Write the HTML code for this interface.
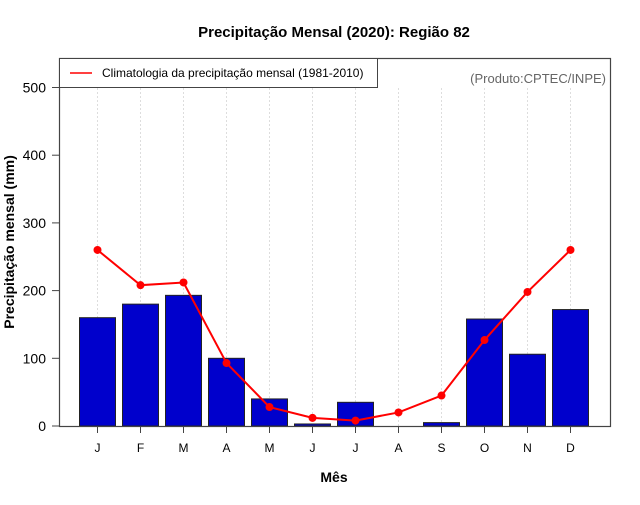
<!DOCTYPE html>
<html><head><meta charset="utf-8"><style>
body{margin:0;background:#fff}
svg text{font-family:"Liberation Sans",sans-serif}
</style></head><body>
<svg id="c" width="640" height="500" xmlns="http://www.w3.org/2000/svg">
<text x="334" y="37" text-anchor="middle" font-size="15" font-weight="bold">Precipitação Mensal (2020): Região 82</text>
<text x="334" y="482" text-anchor="middle" font-size="14" font-weight="bold">Mês</text>
<text transform="translate(14,242) rotate(-90)" text-anchor="middle" font-size="14" font-weight="bold">Precipitação mensal (mm)</text>
<g id="grid"></g><g id="bars"></g><g id="line"></g><g id="axes"></g>
<rect x="59.5" y="58.5" width="551" height="368" fill="none" stroke="#444" stroke-width="1.2"/>
<g>
<rect x="59.5" y="58.5" width="318" height="29" fill="#fff" stroke="#444"/>
<line x1="70" y1="73" x2="92" y2="73" stroke="red" stroke-width="1.5"/>
<text x="102" y="77" font-size="12">Climatologia da precipitação mensal (1981-2010)</text>
</g>
<text x="606" y="83" text-anchor="end" font-size="13" fill="#666">(Produto:CPTEC/INPE)</text>
</svg>
<script>
const months=["J","F","M","A","M","J","J","A","S","O","N","D"];
const precip2020=[160,180,193,100,40,3,35,0,5,158,106,172];
const climatology=[260,208,212,93,28,12,8,20,45,127,198,260];
const yTicks=[0,100,200,300,400,500];
const NS="http://www.w3.org/2000/svg";
const x=i=>97.5+i*43;
const y=v=>426-v*0.677;
function mk(p,t,a){const e=document.createElementNS(NS,t);for(const k in a)e.setAttribute(k,a[k]);document.getElementById(p).appendChild(e);return e;}
months.forEach((m,i)=>{
  let g=mk("grid","line",{x1:x(i),x2:x(i),y1:88,y2:426,stroke:"#ddd","stroke-dasharray":"2,2"});
  
  
  let t=mk("axes","line",{x1:x(i),x2:x(i),y1:426,y2:433,stroke:"#444"});
  
  
  let l=mk("axes","text",{x:x(i),y:452,"text-anchor":"middle","font-size":"12"});l.textContent=m;
  
  
  let b=mk("bars","rect",{x:x(i)-18,y:y(precip2020[i]),width:36,height:426-y(precip2020[i]),fill:"#0000CC",stroke:"#222","stroke-width":"1"});
  
  
});
yTicks.forEach(v=>{
  let t=mk("axes","line",{x1:52,x2:59,y1:y(v),y2:y(v),stroke:"#444"});
  
  
  let l=mk("axes","text",{x:46,y:y(v)+5,"text-anchor":"end","font-size":"14"});l.textContent=v;
  
  
});
let pl=mk("line","polyline",{points:climatology.map((v,i)=>x(i)+","+y(v)).join(" "),fill:"none",stroke:"red","stroke-width":"2"});


climatology.forEach((v,i)=>{
  let c=mk("line","circle",{cx:x(i),cy:y(v),r:4,fill:"red"});
  
  
});
</script>
</body></html>
